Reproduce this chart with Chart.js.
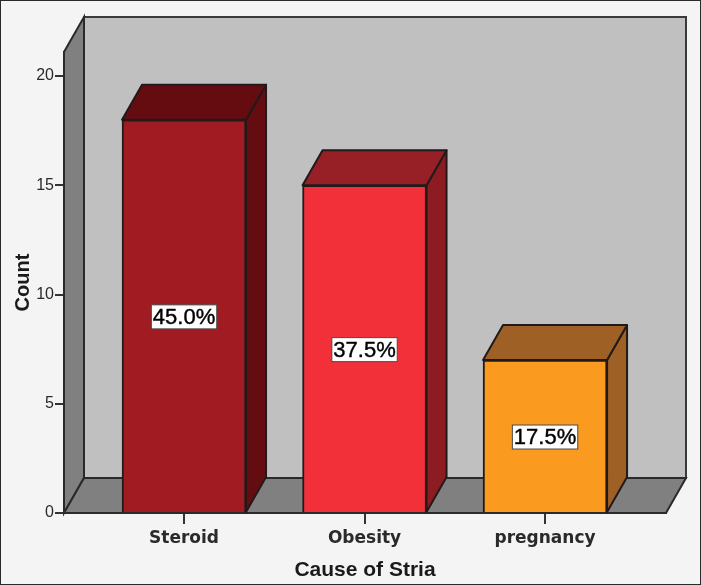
<!DOCTYPE html>
<html>
<head>
<meta charset="utf-8">
<style>
  html, body { margin: 0; padding: 0; background: #f4f4f4; overflow: hidden; }
  canvas { display: block; }
</style>
<script src="https://cdn.jsdelivr.net/npm/chart.js@4/dist/chart.umd.min.js"></script>
</head>
<body>
<canvas id="striaChart" width="701" height="585"></canvas>
<script>
const categories = ['Steroid', 'Obesity', 'pregnancy'];
const counts = [18, 15, 7];
const percents = ['45.0%', '37.5%', '17.5%'];
const yTicks = [0, 5, 10, 15, 20];

const frontColors = ['#a01c22', '#f13039', '#fa9b20'];
const topColors = ['#650c10', '#972027', '#9e6024'];
const sideColors = ['#650c10', '#8c1c22', '#9e6024'];

// how far the back of the 3d box sits from the front
const depthX = 20;
const depthY = -35;
const edge = '#221a1a';

function face(ctx, pts, fill, line) {
  ctx.beginPath();
  pts.forEach((p, i) => i ? ctx.lineTo(p[0], p[1]) : ctx.moveTo(p[0], p[1]));
  ctx.closePath();
  ctx.fillStyle = fill;
  ctx.fill();
  ctx.lineWidth = 2;
  ctx.strokeStyle = line;
  ctx.stroke();
}

const box3d = {
  id: 'box3d',
  beforeDraw(chart) {
    const { ctx, width, height, chartArea: a } = chart;
    ctx.save();
    ctx.fillStyle = '#f4f4f4';
    ctx.fillRect(0, 0, width, height);
    ctx.strokeStyle = '#2a2a2a';
    ctx.lineWidth = 2;
    ctx.strokeRect(0, 0, width, height);
    // back wall, left wall, floor
    face(ctx, [[a.left + depthX, a.top + depthY], [a.right + depthX, a.top + depthY],
      [a.right + depthX, a.bottom + depthY], [a.left + depthX, a.bottom + depthY]], '#c0c0c0', '#3a3a3a');
    face(ctx, [[a.left, a.top], [a.left + depthX, a.top + depthY],
      [a.left + depthX, a.bottom + depthY], [a.left, a.bottom]], '#808080', '#2a2a2a');
    face(ctx, [[a.left, a.bottom], [a.left + depthX, a.bottom + depthY],
      [a.right + depthX, a.bottom + depthY], [a.right, a.bottom]], '#808080', '#2a2a2a');
    ctx.restore();
  },
  beforeDatasetsDraw(chart) {
    const { ctx } = chart;
    ctx.save();
    ctx.lineJoin = 'round';
    chart.getDatasetMeta(0).data.forEach((bar, i) => {
      const { x, y, base, width } = bar.getProps(['x', 'y', 'base', 'width'], true);
      const l = x - width / 2, r = x + width / 2;
      face(ctx, [[r, y], [r + depthX, y + depthY], [r + depthX, base + depthY], [r, base]], sideColors[i], edge);
      face(ctx, [[l, y], [l + depthX, y + depthY], [r + depthX, y + depthY], [r, y]], topColors[i], edge);
    });
    ctx.restore();
  },
  afterDatasetsDraw(chart) {
    const { ctx } = chart;
    ctx.save();
    ctx.font = '22px "Liberation Sans"';
    ctx.textAlign = 'center';
    ctx.textBaseline = 'middle';
    chart.getDatasetMeta(0).data.forEach((bar, i) => {
      const { x, y, base } = bar.getProps(['x', 'y', 'base'], true);
      const mid = (y + base) / 2 + 1;
      const w = ctx.measureText(percents[i]).width + 3;
      ctx.fillStyle = '#ffffff';
      ctx.fillRect(x - w / 2, mid - 12, w, 24);
      ctx.strokeStyle = '#4a4a4a';
      ctx.lineWidth = 1;
      ctx.strokeRect(x - w / 2, mid - 12, w, 24);
      ctx.fillStyle = '#000000';
      ctx.fillText(percents[i], x, mid + 1);
      // the source labels print a little heavier than the regular face
      ctx.strokeStyle = '#000000';
      ctx.lineWidth = 0.4;
      ctx.strokeText(percents[i], x, mid + 1);
    });
    ctx.restore();
  }
};

new Chart(document.getElementById('striaChart').getContext('2d'), {
  type: 'bar',
  data: {
    datasets: [{
      data: categories.map((c, i) => ({ x: i, y: counts[i] })),
      backgroundColor: frontColors,
      borderColor: edge,
      borderWidth: 2,
      barThickness: 124
    }]
  },
  plugins: [box3d],
  options: {
    responsive: false,
    animation: false,
    layout: { padding: { top: 52, right: 35, left: 0, bottom: 0 } },
    plugins: { legend: { display: false }, tooltip: { enabled: false } },
    scales: {
      x: {
        type: 'linear',
        offset: false,
        min: -0.665,
        max: 2.67,
        afterBuildTicks(scale) { scale.ticks = categories.map((c, i) => ({ value: i })); },
        afterFit(scale) { scale.height = 72; },
        grid: { display: true, offset: false, drawOnChartArea: false, drawTicks: true, tickLength: 11, color: '#333333', lineWidth: 2 },
        border: { display: true, color: '#2a2a2a', width: 2 },
        ticks: {
          autoSkip: false,
          maxRotation: 0,
          padding: 4,
          color: '#2a2a2a',
          font: { family: '"DejaVu Sans"', size: 17, weight: 'bold' },
          callback: v => categories[v]
        },
        title: {
          display: true,
          text: 'Cause of Stria',
          color: '#1a1a1a',
          font: { family: '"Liberation Sans"', size: 21, weight: 'bold' },
          padding: { top: 7, bottom: 2 }
        }
      },
      y: {
        min: 0,
        max: 21.1,
        afterBuildTicks(scale) { scale.ticks = yTicks.map(v => ({ value: v })); },
        afterFit(scale) { scale.width = 64; },
        grid: { display: true, drawOnChartArea: false, drawTicks: true, tickLength: 9, color: '#333333', lineWidth: 2 },
        border: { display: true, color: '#2a2a2a', width: 2 },
        ticks: {
          padding: 1,
          color: '#2a2a2a',
          font: { family: '"Liberation Sans"', size: 16 }
        },
        title: {
          display: true,
          text: 'Count',
          color: '#1a1a1a',
          font: { family: '"Liberation Sans"', size: 20, weight: 'bold' },
          padding: { top: 11, bottom: 0 }
        }
      }
    }
  }
});
</script>
</body>
</html>
